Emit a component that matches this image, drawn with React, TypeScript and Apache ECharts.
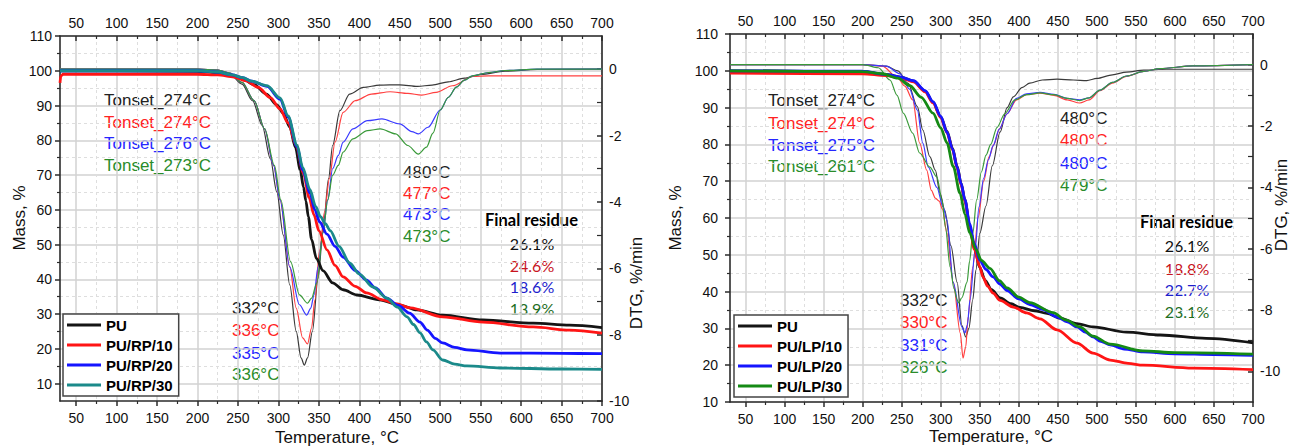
import React, { useEffect, useRef } from "react";
import * as echarts from "echarts";

// ---------- tick values ----------
const xMajorTicks = [50, 100, 150, 200, 250, 300, 350, 400, 450, 500, 550, 600, 650, 700];
const xMinorTicks = [75, 125, 175, 225, 275, 325, 375, 425, 475, 525, 575, 625, 675];
const massMajorTicks = [10, 20, 30, 40, 50, 60, 70, 80, 90, 100, 110];
const massMinorTicksRP = [15, 25, 35, 45, 55, 65, 75, 85, 95, 105];
const massMinorTicksLP = [15, 25, 35, 45, 55, 65, 75, 85, 95, 105];
const dtgMajorTicks = [-10, -8, -6, -4, -2, 0];
const dtgMinorTicks = [-9, -7, -5, -3, -1];

// ---------- left panel (RP) : mass, % ----------
const rpMassPU = [[30,100],[100,100],[200,99.8],[222,99.5],[240,98.8],[255,97.8],[270,96],[285,93.3],[298,90.2],[306,87.8],[314,83.8],[321,78],[327,71.5],[331,66.5],[334,62.5],[337,58],[341,51.5],[347,46],[355,42.5],[367,39],[380,37],[397,35.5],[425,34.1],[450,32.6],[471,31.2],[503,29.7],[553,28.3],[615,27.4],[660,26.8],[700,26.1]];
const rpMassRP10 = [[30,96.5],[31,98.5],[34,99],[200,99],[225,98.8],[245,98.2],[260,97.1],[275,95.2],[290,92.3],[302,89],[312,85],[322,78.5],[331,70.5],[338,63.5],[344,58.5],[350,54],[360,48.5],[370,44],[380,40.7],[395,38],[409,36.1],[429,34.1],[445,33],[463,31.8],[503,29.2],[553,27.7],[615,26.3],[660,25.4],[700,24.5]];
const rpMassRP20 = [[30,100],[200,100],[225,99.6],[243,98.8],[256,98],[267,97],[286,95.5],[302,91.8],[312,86.7],[323,78.1],[330,71.5],[339,64.8],[345,60],[351,56.5],[360,53],[370,49.5],[380,46.4],[395,42.5],[409,39.8],[420,37.5],[434,34.6],[448,32.5],[462,30.3],[475,27.7],[484,25.4],[494,23],[503,21.7],[518,20.4],[533,19.7],[574,18.8],[650,18.7],[700,18.6]];
const rpMassRP30 = [[30,100],[200,100],[225,99.6],[243,98.8],[256,98],[267,97],[286,95.7],[302,92.2],[312,87],[323,78.6],[330,72.2],[339,65.8],[346,61],[352,58],[358,56],[364,54],[375,49.5],[388,44.7],[400,41.5],[417,37.8],[434,34.6],[447,32],[459,29.2],[467,27],[475,24.6],[483,22],[491,19.7],[503,16.8],[518,15.6],[533,15.1],[574,14.5],[650,14.2],[700,14.1]];

// ---------- left panel (RP) : DTG, %/min ----------
const rpDtgPU = [[30,0],[200,0],[225,-0.03],[240,-0.15],[255,-0.45],[268,-0.95],[280,-1.7],[290,-2.7],[298,-3.7],[306,-5.0],[314,-6.5],[322,-7.9],[328,-8.7],[332,-8.92],[336,-8.7],[342,-7.9],[349,-6.3],[356,-4.6],[362,-3.3],[367,-2.3],[376,-1.25],[388,-0.75],[405,-0.55],[425,-0.48],[450,-0.47],[472,-0.52],[490,-0.48],[510,-0.38],[530,-0.27],[550,-0.16],[580,-0.06],[620,-0.01],[700,0]];
const rpDtgRP10 = [[30,0],[200,0],[225,-0.03],[240,-0.12],[255,-0.4],[270,-0.95],[283,-1.8],[294,-2.9],[302,-3.94],[314,-5.96],[322,-7.2],[330,-8.1],[336,-8.28],[341,-7.8],[345,-6.96],[351,-5.45],[357,-4.3],[363,-3.3],[370,-2.2],[380,-1.3],[395,-0.95],[415,-0.75],[438,-0.68],[460,-0.73],[477,-0.78],[495,-0.7],[515,-0.5],[540,-0.22],[560,-0.2],[700,-0.2]];
const rpDtgRP20 = [[30,0],[200,0],[225,-0.03],[240,-0.12],[255,-0.4],[270,-0.95],[283,-1.8],[294,-2.9],[302,-3.94],[314,-5.96],[326,-7.1],[335,-7.41],[340,-7.2],[344,-6.8],[349,-5.96],[355,-4.94],[361,-3.94],[367,-3.0],[374,-2.6],[380,-2.2],[392,-1.8],[410,-1.55],[428,-1.5],[450,-1.65],[465,-1.88],[473,-1.95],[485,-1.75],[500,-1.23],[510,-0.85],[520,-0.54],[530,-0.33],[540,-0.2],[560,-0.1],[580,-0.04],[620,0],[700,0]];
const rpDtgRP30 = [[30,0],[200,0],[225,-0.03],[240,-0.12],[255,-0.4],[270,-0.95],[283,-1.8],[295,-2.9],[303,-3.94],[315,-5.8],[326,-6.8],[336,-7.05],[341,-6.9],[347.5,-6.44],[355,-4.94],[361,-3.94],[367,-3.2],[374,-2.9],[380,-2.5],[392,-2.1],[410,-1.85],[426,-1.8],[445,-1.95],[460,-2.3],[473,-2.56],[483,-2.35],[491,-1.93],[500,-1.23],[510,-0.85],[520,-0.54],[530,-0.33],[540,-0.2],[560,-0.1],[580,-0.04],[620,0],[700,0]];

// ---------- right panel (LP) : mass, % ----------
const lpMassPU = [[30,100],[200,99.8],[230,99],[250,98.2],[265,97.2],[280,94.5],[290,91.5],[300,87.5],[308,83.5],[315,79],[321,74],[326,69.5],[331,64.9],[337,58],[343,52],[350,46.5],[357,43],[365,40.5],[376,38.3],[390,36.7],[401.5,35.7],[420,34.8],[436,34.1],[453,32.8],[474,31.3],[495,30.4],[538,29.0],[581,28.2],[640,27.3],[700,26.1]];
const lpMassLP10 = [[30,99.4],[200,99.2],[230,98.7],[250,98],[265,97],[280,94.3],[290,91.3],[300,87.3],[308,83.2],[315,78.6],[321,73.6],[326,69],[331,64.5],[337,57.8],[343,51.5],[350,46.8],[354,44],[360,41.5],[367,39.6],[376,37.6],[393,35.8],[410,34.2],[427,32.6],[449,29.6],[474.5,26],[495,23.3],[517,21.4],[540,20.5],[559,20],[623,19.2],[700,18.8]];
const lpMassLP20 = [[30,100],[200,99.9],[230,99],[250,98.2],[265,97.3],[280,94.6],[290,91.6],[300,87.6],[308,83.3],[315,78.8],[321,73.8],[326,69.4],[331,64.9],[337,58.5],[343,53],[350,48.5],[358,46],[367,44],[376,42],[385,40.3],[400,38],[414,36.5],[430,35.2],[449,33.1],[462,31.8],[474.5,30.4],[485,29],[495,27.7],[505,26.5],[517,25.5],[535,24.4],[559,23.6],[600,23.1],[650,22.9],[700,22.7]];
const lpMassLP30 = [[30,100],[200,99.8],[225,99.2],[245,98],[260,96],[275,92.8],[290,88.5],[300,84.5],[308,80.4],[316,74],[324.6,66.8],[331,61],[337,56],[345,51.5],[352,48.5],[363,46.3],[375,43],[385,41],[400,38.5],[414,37],[444,34.3],[460,32.3],[478,30.4],[495,27.9],[517,25.7],[559,23.9],[600,23.4],[700,23.0]];

// ---------- right panel (LP) : DTG, %/min ----------
const lpDtgPU = [[30,0],[200,0],[230,-0.05],[245,-0.2],[258,-0.6],[270,-1.37],[277,-2.13],[286,-3.0],[293,-3.44],[299,-4.19],[305,-4.74],[313,-5.9],[321,-7.1],[327,-8.5],[332,-8.88],[336,-8.6],[341,-7.67],[345,-6.7],[350,-5.5],[358,-4.6],[366,-3.3],[376,-2.2],[385,-1.4],[393,-1.05],[404,-0.75],[414,-0.6],[430,-0.5],[449,-0.47],[470,-0.5],[487,-0.52],[500,-0.45],[520,-0.33],[538,-0.24],[560,-0.18],[589,-0.15],[650,-0.15],[700,-0.15]];
const lpDtgLP10 = [[30,0],[200,0],[225,-0.05],[244,-0.4],[254,-0.7],[264,-1.15],[273,-2.56],[282,-3.44],[288,-4.1],[293,-4.35],[298,-4.45],[302,-4.7],[308,-5.5],[316,-7.1],[325,-8.75],[328.5,-9.57],[332,-9.2],[335,-8.23],[341,-6.6],[348,-4.97],[355,-3.8],[362,-3.0],[368,-2.6],[375,-2.1],[385,-1.6],[397,-1.15],[410,-0.98],[427,-0.93],[445,-1.0],[462,-1.15],[478,-1.25],[490,-1.15],[504,-0.85],[520,-0.6],[538,-0.38],[560,-0.22],[581,-0.13],[623,-0.04],[700,0]];
const lpDtgLP20 = [[30,0],[200,0],[230,-0.05],[248,-0.3],[260,-0.8],[270,-1.48],[277,-2.56],[284,-3.34],[295,-4.0],[303,-4.64],[308,-5.07],[316,-7.1],[327,-8.55],[331,-8.75],[334,-8.5],[337.5,-7.67],[344,-6.04],[349,-4.64],[355,-3.7],[361,-3.1],[367,-2.65],[375,-2.1],[385,-1.6],[397,-1.1],[410,-0.95],[427,-0.9],[445,-0.97],[462,-1.1],[478,-1.15],[490,-1.08],[504,-0.83],[520,-0.58],[538,-0.37],[560,-0.22],[581,-0.13],[623,-0.04],[700,0]];
const lpDtgLP30 = [[30,0],[200,0],[220,-0.1],[235,-0.5],[244,-1.0],[252,-1.58],[264,-2.23],[273,-2.88],[286,-3.34],[295,-3.66],[301.6,-4.41],[306,-5.3],[312,-6.6],[317,-7.3],[321,-7.67],[323,-7.77],[327,-7.6],[333.6,-7.1],[337,-6.4],[341,-5.5],[346,-4.41],[352,-3.5],[358,-2.95],[364,-2.6],[372,-2.05],[382,-1.6],[395,-1.15],[410,-0.98],[427,-0.92],[445,-0.98],[462,-1.1],[478,-1.17],[490,-1.08],[504,-0.83],[520,-0.58],[538,-0.37],[560,-0.22],[581,-0.13],[623,-0.04],[700,0]];

// ---------- texts ----------
const rpNames = ["PU", "PU/RP/10", "PU/RP/20", "PU/RP/30"];
const lpNames = ["PU", "PU/LP/10", "PU/LP/20", "PU/LP/30"];
const rpOnset = ["Tonset_274°C", "Tonset_274°C", "Tonset_276°C", "Tonset_273°C"];
const lpOnset = ["Tonset_274°C", "Tonset_274°C", "Tonset_275°C", "Tonset_261°C"];
const rpPeak2 = ["480°C", "477°C", "473°C", "473°C"];
const lpPeak2 = ["480°C", "480°C", "480°C", "479°C"];
const rpPeak1 = ["332°C", "336°C", "335°C", "336°C"];
const lpPeak1 = ["332°C", "330°C", "331°C", "326°C"];
const rpResidue = ["26.1%", "24.6%", "18.6%", "13.9%"];
const lpResidue = ["26.1%", "18.8%", "22.7%", "23.1%"];

const FONT = "'Liberation Sans', Arial, sans-serif";
const CAL = "Lato, 'Liberation Sans', sans-serif";
const AX = "#2b2b2b";
const txtColors = ["#222222", "#ff2323", "#2626ff", "#2a8c2a"];
const resColors = ["#111111", "#c8141e", "#1e1ecc", "#1f6e1f"];

function xAxes(g: number) {
  const base = { type: "value", gridIndex: g, min: 30, max: 700 };
  return [
    { ...base, position: "bottom",
      axisLine: { show: true, onZero: false, lineStyle: { color: AX, width: 1.6 } },
      axisTick: { show: true, inside: false, length: 5, customValues: xMajorTicks, lineStyle: { color: AX, width: 1.5 } },
      axisLabel: { show: true, customValues: xMajorTicks, margin: 10, fontSize: 14, color: "#111", fontFamily: FONT },
      splitLine: { show: true, lineStyle: { color: "#d2d2d2", width: 1.5 } } },
    { ...base, position: "top",
      axisLine: { show: true, onZero: false, lineStyle: { color: AX, width: 1.6 } },
      axisTick: { show: true, inside: true, length: 5, customValues: xMajorTicks, lineStyle: { color: AX, width: 1.5 } },
      axisLabel: { show: true, customValues: xMajorTicks, margin: 6, fontSize: 14, color: "#111", fontFamily: FONT },
      splitLine: { show: false } },
    { ...base, position: "bottom",
      axisLine: { show: false, onZero: false },
      axisTick: { show: true, inside: false, length: 3, customValues: xMinorTicks, lineStyle: { color: AX, width: 1.2 } },
      axisLabel: { show: false },
      splitLine: { show: true, lineStyle: { color: "#dedede", width: 1, type: [3, 3] } } },
    { ...base, position: "top",
      axisLine: { show: false, onZero: false },
      axisTick: { show: true, inside: true, length: 3, customValues: xMinorTicks, lineStyle: { color: AX, width: 1.2 } },
      axisLabel: { show: false },
      splitLine: { show: false } },
  ];
}

function yAxes(g: number, massMin: number, massMinor: number[], dtgMin: number, leftMargin: number, rightMargin: number) {
  return [
    { type: "value", gridIndex: g, position: "left", min: massMin, max: 110,
      axisLine: { show: true, onZero: false, lineStyle: { color: AX, width: 1.6 } },
      axisTick: { show: true, inside: false, length: 5, customValues: massMajorTicks, lineStyle: { color: AX, width: 1.5 } },
      axisLabel: { show: true, customValues: massMajorTicks, margin: leftMargin, fontSize: 14, color: "#111", fontFamily: FONT },
      splitLine: { show: true, lineStyle: { color: "#d2d2d2", width: 1.5 } } },
    { type: "value", gridIndex: g, position: "right", min: dtgMin, max: 1,
      axisLine: { show: true, onZero: false, lineStyle: { color: AX, width: 1.6 } },
      axisTick: { show: true, inside: true, length: 5, customValues: dtgMajorTicks, lineStyle: { color: AX, width: 1.5 } },
      axisLabel: { show: true, customValues: dtgMajorTicks, margin: rightMargin, fontSize: 14, color: "#111", fontFamily: FONT },
      splitLine: { show: false } },
    { type: "value", gridIndex: g, position: "left", min: massMin, max: 110,
      axisLine: { show: false, onZero: false },
      axisTick: { show: true, inside: false, length: 3, customValues: massMinor, lineStyle: { color: AX, width: 1.2 } },
      axisLabel: { show: false },
      splitLine: { show: true, lineStyle: { color: "#dedede", width: 1, type: [3, 3] } } },
    { type: "value", gridIndex: g, position: "right", min: dtgMin, max: 1,
      axisLine: { show: false, onZero: false },
      axisTick: { show: true, inside: true, length: 5, customValues: dtgMinorTicks, lineStyle: { color: AX, width: 1.2 } },
      axisLabel: { show: false },
      splitLine: { show: false } },
  ];
}

function line(name: string, data: number[][], xi: number, yi: number, color: string, width: number, z: number) {
  return {
    type: "line", name, data, xAxisIndex: xi, yAxisIndex: yi,
    showSymbol: false, symbol: "none", smooth: 0.3, smoothMonotone: "x",
    lineStyle: { color, width }, itemStyle: { color }, z, silent: true,
  };
}

function txt(text: string, x: number, y: number, fill: string, size = 17, family = FONT, weight = "normal", align = "left") {
  return {
    type: "text", x, y, silent: true,
    style: { text, fill, fontSize: size, fontFamily: family, fontWeight: weight, align, verticalAlign: "middle" },
  };
}

function rtxt(text: string, x: number, y: number) {
  return {
    type: "text", x, y, rotation: Math.PI / 2, silent: true,
    style: { text, fill: "#111", fontSize: 17, fontFamily: FONT, align: "center", verticalAlign: "middle" },
  };
}

export default function App() {
  const ref = useRef<HTMLDivElement>(null);
  useEffect(() => {
    if (!ref.current) return;
    const chart = echarts.init(ref.current, null, { renderer: "svg" });
    const black = "#151515", red = "#ff1515", blue = "#1515ff", teal = "#1b8a8a", green = "#158a15";
    const dBlack = "#3a3a3a", dRed = "#ff4040", dBlue = "#3a3aff", dGreen = "#3a9a3a";

    const graphics: any[] = [];
    [0, 1, 2, 3].forEach((i) => {
      graphics.push(txt(rpOnset[i], 104, [100, 122, 143, 165][i], txtColors[i]));
      graphics.push(txt(rpPeak2[i], 403, [172, 193, 214, 236][i], txtColors[i]));
      graphics.push(txt(rpPeak1[i], 232, [308, 330, 353, 374][i], txtColors[i]));
      graphics.push(txt(rpResidue[i], 532, [243, 265, 286, 308][i], resColors[i], 16, CAL, "normal", "center"));
      graphics.push(txt(lpOnset[i], 768, [100, 123, 145, 166][i], txtColors[i]));
      graphics.push(txt(lpPeak2[i], 1060, [118, 140, 163, 185][i], txtColors[i]));
      graphics.push(txt(lpPeak1[i], 900, [300, 322, 345, 367][i], txtColors[i]));
      graphics.push(txt(lpResidue[i], 1187, [245, 268, 289, 311][i], resColors[i], 16, CAL, "normal", "center"));
    });
    graphics.push(txt("Final residue", 485, 220, "#000", 16.5, CAL, "bold"));
    graphics.push(txt("Final residue", 1140, 222, "#000", 16.5, CAL, "bold"));
    graphics.push(txt("Temperature, °C", 337, 437, "#111", 17, FONT, "normal", "center"));
    graphics.push(txt("Temperature, °C", 991, 436, "#111", 17, FONT, "normal", "center"));
    graphics.push(rtxt("Mass, %", 19, 218));
    graphics.push(rtxt("Mass, %", 675, 218));
    graphics.push(rtxt("DTG, %/min", 636, 283));
    graphics.push(rtxt("DTG, %/min", 1281, 205));

    const legendBase = {
      orient: "vertical", icon: "rect", itemWidth: 34, itemHeight: 3, itemGap: 2,
      padding: [2, 6, 2, 4], borderColor: "#444", borderWidth: 1.5, backgroundColor: "#fff",
      selectedMode: false,
      textStyle: { fontSize: 15, fontWeight: "bold", color: "#000", fontFamily: FONT, lineHeight: 18 },
    };

    chart.setOption({
      animation: false,
      backgroundColor: "#fff",
      grid: [
        { left: 60, top: 36, width: 542, height: 365, containLabel: false },
        { left: 730, top: 34, width: 523, height: 368, containLabel: false },
      ],
      xAxis: [...xAxes(0), ...xAxes(1)],
      yAxis: [
        ...yAxes(0, 5, massMinorTicksRP, -10, 8, 7),
        ...yAxes(1, 10, massMinorTicksLP, -11, 12, 7),
      ],
      legend: [
        { ...legendBase, left: 63, top: 314, data: rpNames },
        { ...legendBase, left: 734, top: 315, data: lpNames },
      ],
      series: [
        line("PU DTG", rpDtgPU, 0, 1, dBlack, 1.2, 3),
        line("PU/RP/10 DTG", rpDtgRP10, 0, 1, dRed, 1.2, 3),
        line("PU/RP/20 DTG", rpDtgRP20, 0, 1, dBlue, 1.2, 3),
        line("PU/RP/30 DTG", rpDtgRP30, 0, 1, dGreen, 1.2, 3),
        line("PU", rpMassPU, 0, 0, black, 2.8, 5),
        line("PU/RP/10", rpMassRP10, 0, 0, red, 2.8, 5),
        line("PU/RP/20", rpMassRP20, 0, 0, blue, 2.8, 5),
        line("PU/RP/30", rpMassRP30, 0, 0, teal, 2.8, 5),
        line("PU DTG ", lpDtgPU, 4, 5, dBlack, 1.2, 3),
        line("PU/LP/10 DTG", lpDtgLP10, 4, 5, dRed, 1.2, 3),
        line("PU/LP/20 DTG", lpDtgLP20, 4, 5, dBlue, 1.2, 3),
        line("PU/LP/30 DTG", lpDtgLP30, 4, 5, dGreen, 1.2, 3),
        line("PU ", lpMassPU, 4, 4, black, 2.8, 5),
        line("PU/LP/10", lpMassLP10, 4, 4, red, 2.8, 5),
        line("PU/LP/20", lpMassLP20, 4, 4, blue, 2.8, 5),
        line("PU/LP/30", lpMassLP30, 4, 4, green, 2.8, 5),
      ],
      graphic: graphics,
    });
    return () => chart.dispose();
  }, []);
  return <div ref={ref} style={{ position: "absolute", left: 0, top: 0, width: 1290, height: 446 }} />;
}
